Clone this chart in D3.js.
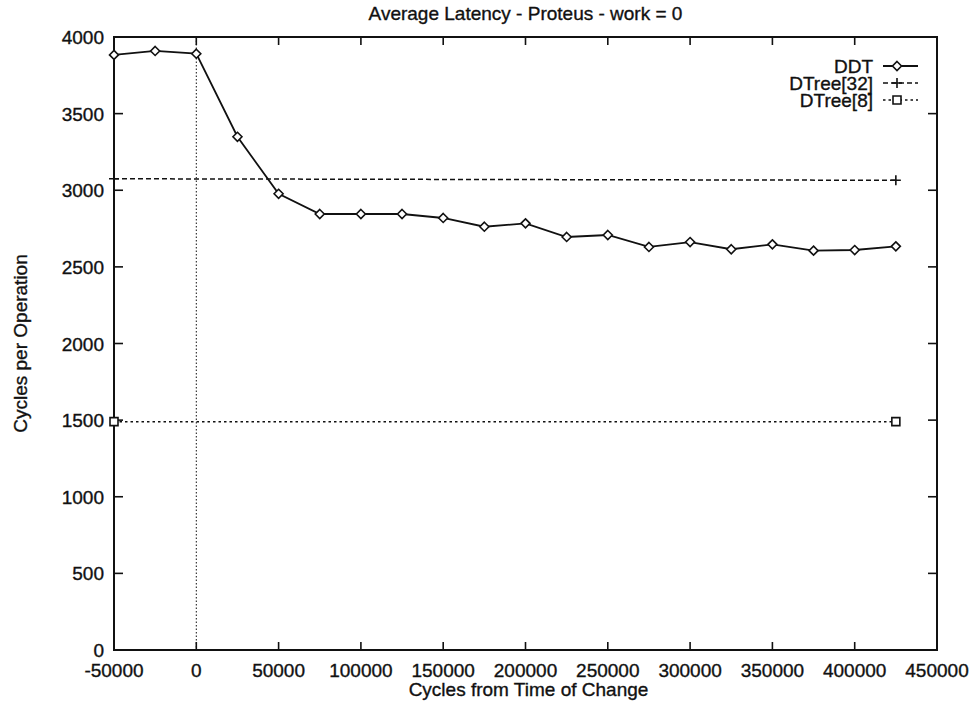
<!DOCTYPE html>
<html><head><meta charset="utf-8">
<script src="https://cdn.jsdelivr.net/npm/d3@7"></script>
<style>body{margin:0;background:#fff}svg{display:block}text{font-family:"Liberation Sans",Arial,sans-serif;fill:#111;stroke:#111;stroke-width:0.35px}</style>
</head><body>
<svg id="c" width="974" height="702"></svg>
<script>
const ddtX = [-50000,-25000,0,25000,50000,75000,100000,125000,150000,175000,200000,225000,250000,275000,300000,325000,350000,375000,400000,425000];
const ddtY = [3883,3909,3891,3349,2977,2845,2845,2845,2819,2762,2784,2695,2708,2630,2662,2615,2647,2606,2610,2634];
const dtree32X = [-50000,425000];
const dtree32Y = [3075,3065];
const dtree8X = [-50000,425000];
const dtree8Y = [1490,1490];
const xTicks = [-50000,0,50000,100000,150000,200000,250000,300000,350000,400000,450000];
const yTicks = [0,500,1000,1500,2000,2500,3000,3500,4000];
const seriesNames = ["DDT","DTree[32]","DTree[8]"];

const svg = d3.select("#c");
const L=114,R=937,T=37,B=650;
const x = d3.scaleLinear().domain([-50000,450000]).range([L,R]);
const y = d3.scaleLinear().domain([0,4000]).range([B,T]);
const fs = 19;

// vertical dotted line at x=0
svg.append("line").attr("x1",x(0)).attr("x2",x(0)).attr("y1",T).attr("y2",B)
  .attr("stroke","#111").attr("stroke-width",1).attr("stroke-dasharray","1.5,2");

// ticks (mirrored, inward)
const g = svg.append("g").attr("stroke","#111").attr("stroke-width",1.6);
xTicks.forEach(t=>{
  g.append("line").attr("x1",x(t)).attr("x2",x(t)).attr("y1",B).attr("y2",B-8);
  g.append("line").attr("x1",x(t)).attr("x2",x(t)).attr("y1",T).attr("y2",T+8);
});
yTicks.forEach(t=>{
  g.append("line").attr("x1",L).attr("x2",L+9).attr("y1",y(t)).attr("y2",y(t));
  g.append("line").attr("x1",R).attr("x2",R-9).attr("y1",y(t)).attr("y2",y(t));
});
svg.append("rect").attr("x",L).attr("y",T).attr("width",R-L).attr("height",B-T)
  .attr("fill","none").attr("stroke","#111").attr("stroke-width",2);

svg.append("g").selectAll("text").data(xTicks).join("text")
  .attr("x",d=>x(d)).attr("y",B+27).attr("text-anchor","middle").attr("font-size",fs).text(d=>d);
svg.append("g").selectAll("text").data(yTicks).join("text")
  .attr("x",L-10).attr("y",d=>y(d)+7).attr("text-anchor","end").attr("font-size",fs).text(d=>d);

svg.append("text").attr("x",(L+R)/2).attr("y",20).attr("text-anchor","middle").attr("font-size",fs).text("Average Latency - Proteus - work = 0");
svg.append("text").attr("x",(L+R)/2+3).attr("y",696).attr("text-anchor","middle").attr("font-size",fs).text("Cycles from Time of Change");
svg.append("text").attr("transform",`translate(27,${(T+B)/2}) rotate(-90)`).attr("text-anchor","middle").attr("font-size",fs).text("Cycles per Operation");

const line = d3.line().x(d=>x(d[0])).y(d=>y(d[1]));
const d32 = d3.zip(dtree32X,dtree32Y), d8 = d3.zip(dtree8X,dtree8Y), dd = d3.zip(ddtX,ddtY);
svg.append("path").datum(d32).attr("d",line).attr("fill","none").attr("stroke","#111").attr("stroke-width",1.5).attr("stroke-dasharray","5,3");
svg.append("path").datum(d8).attr("d",line).attr("fill","none").attr("stroke","#111").attr("stroke-width",1.5).attr("stroke-dasharray","2.5,3");
svg.append("path").datum(dd).attr("d",line).attr("fill","none").attr("stroke","#111").attr("stroke-width",1.8);

const diamond = (cx,cy)=>`M${cx},${cy-4.5}L${cx+4.5},${cy}L${cx},${cy+4.5}L${cx-4.5},${cy}Z`;
const plus = (cx,cy)=>`M${cx-5},${cy}H${cx+5}M${cx},${cy-5}V${cy+5}`;
const square = (cx,cy)=>`M${cx-4},${cy-4}h8v8h-8Z`;
svg.append("g").selectAll("path").data(dd).join("path").attr("d",d=>diamond(x(d[0]),y(d[1])))
  .attr("fill","#fff").attr("stroke","#111").attr("stroke-width",1.6);
svg.append("g").selectAll("path").data(d32).join("path").attr("d",d=>plus(x(d[0]),y(d[1])))
  .attr("fill","none").attr("stroke","#111").attr("stroke-width",1.6);
svg.append("g").selectAll("path").data(d8).join("path").attr("d",d=>square(x(d[0]),y(d[1])))
  .attr("fill","#fff").attr("stroke","#111").attr("stroke-width",1.6);

// legend
const ly=[66,83,100];
const dashes=[null,"5,3","2.5,3"];
const markers=[diamond,plus,square];
seriesNames.forEach((n,i)=>{
  svg.append("text").attr("x",873).attr("y",ly[i]+7).attr("text-anchor","end").attr("font-size",fs).text(n);
  svg.append("line").attr("x1",883).attr("x2",918).attr("y1",ly[i]).attr("y2",ly[i])
    .attr("stroke","#111").attr("stroke-width",i==0?1.8:1.5).attr("stroke-dasharray",dashes[i]);
  svg.append("path").attr("d",markers[i](897,ly[i])).attr("fill",i==1?"none":"#fff").attr("stroke","#111").attr("stroke-width",1.6);
});
</script>
</body></html>
